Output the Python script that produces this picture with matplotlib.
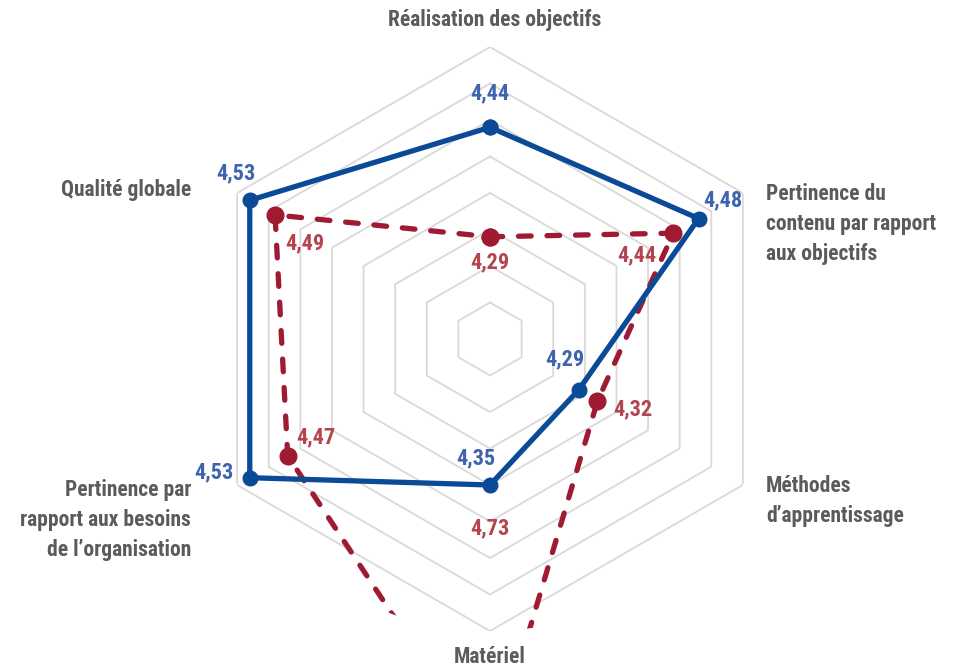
import numpy as np
import matplotlib
matplotlib.use("Agg")
import matplotlib.pyplot as plt
from matplotlib import font_manager as fm

# Evaluation criteria (clockwise from the top)
categories = [
    "Réalisation des objectifs",
    "Pertinence du\ncontenu par rapport\naux objectifs",
    "Méthodes\nd’apprentissage",
    "Matériel",
    "Pertinence par\nrapport aux besoins\nde l’organisation",
    "Qualité globale",
]
blue_values = [4.44, 4.48, 4.29, 4.35, 4.53, 4.53]
red_values = [4.29, 4.44, 4.32, 4.73, 4.47, 4.49]

r_min, r_max, r_step = 4.15, 4.55, 0.05

# pick the narrowest bold sans available
installed = {f.name for f in fm.fontManager.ttflist}
condensed_dejavu = any(f.name == "DejaVu Sans" and "condensed" in str(f.stretch)
                       for f in fm.fontManager.ttflist)
FONT, STRETCH = None, "normal"
for cand in ["Roboto Condensed", "Liberation Sans Narrow", "Open Sans Condensed",
             "Noto Sans Condensed", "DejaVu Sans Condensed"]:
    if cand in installed:
        FONT = [cand, "DejaVu Sans"]
        break
if FONT is None:
    if condensed_dejavu:
        FONT, STRETCH = ["DejaVu Sans"], "condensed"
    else:
        FONT = ["Roboto", "DejaVu Sans"]

GRID = "#d9d9d9"
BLUE_LINE, BLUE_TEXT = "#0b4a97", "#3f63ad"
RED_LINE, RED_TEXT = "#9e1b32", "#b4454e"
CAT_TEXT = "#5b5b5b"

W, H, DPI = 961, 670, 100
fig = plt.figure(figsize=(W / DPI, H / DPI), dpi=DPI)

# polar axes centred at (490, 339) px with a 292 px outer radius
cx, cy, R = 490, 339, 292
ax = fig.add_axes([(cx - R) / W, (H - cy - R) / H, 2 * R / W, 2 * R / H],
                  projection="polar")
ax.set_theta_zero_location("N")
ax.set_theta_direction(-1)
ax.set_ylim(r_min, r_max)
ax.grid(False)
ax.set_xticks([])
ax.set_yticks([])
ax.spines["polar"].set_visible(False)
ax.patch.set_visible(False)

n = len(categories)
theta = np.arange(n) * 2 * np.pi / n
theta_c = np.append(theta, theta[0])

# hexagonal rings
for lvl in np.arange(r_min + r_step, r_max + 1e-9, r_step):
    ax.plot(theta_c, [lvl] * (n + 1), color=GRID, lw=1.3, zorder=1)

# series (values beyond the scale maximum are clipped at the chart edge)
blue_c = blue_values + blue_values[:1]
red_c = red_values + red_values[:1]
ax.plot(theta_c, red_c, color=RED_LINE, lw=3.8, ls=(0, (2.4, 3.0)),
        dash_capstyle="round", marker="o", ms=12, zorder=3)
ax.plot(theta_c, blue_c, color=BLUE_LINE, lw=3.8, solid_joinstyle="round",
        marker="o", ms=10.5, zorder=4, clip_on=False)

txt = dict(ha="center", va="center", fontsize=16, fontweight="bold",
           family=FONT, fontstretch=STRETCH, textcoords="offset pixels",
           annotation_clip=False, zorder=5)

# value labels
blue_off = [(0, 34), (24, 18), (-14, 31), (-14, 27), (-36, 5), (-14, 27)]
red_off = [(0, -26), (-37, -22), (35, -8), (0, 234), (28, 18), (30, -28)]
for th, v, off in zip(theta, blue_values, blue_off):
    ax.annotate(f"{v:.2f}".replace(".", ","), xy=(th, v), xytext=off,
                color=BLUE_TEXT, **txt)
for th, v, off in zip(theta, red_values, red_off):
    ax.annotate(f"{v:.2f}".replace(".", ","), xy=(th, v), xytext=off,
                color=RED_TEXT, **txt)

# category labels around the outer ring
cat_style = [((5, 27), "center"), ((23, -31), "left"), ((23, -16), "left"),
             ((0, -26), "center"), ((-46, -35), "right"), ((-46, 3), "right")]
for th, lab, (off, ha) in zip(theta, categories, cat_style):
    ax.annotate(lab, xy=(th, r_max), xytext=off, textcoords="offset pixels",
                ha=ha, va="center", multialignment=ha, color=CAT_TEXT,
                fontsize=15.5, fontweight="bold", family=FONT,
                fontstretch=STRETCH, linespacing=1.45, annotation_clip=False)

fig.savefig("out.png", dpi=DPI)
